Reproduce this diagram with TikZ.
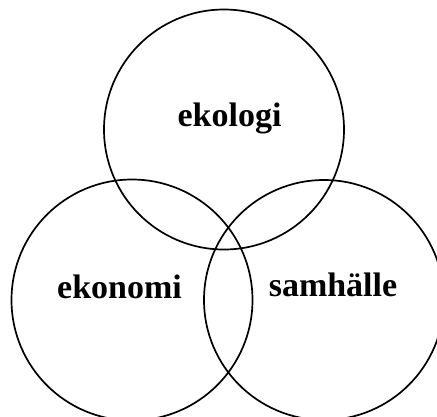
\documentclass[tikz,border=0pt]{standalone}
\usepackage{fontspec}
\setmainfont{Liberation Serif}
\begin{document}
\begin{tikzpicture}[x=1pt,y=-1pt,
  ring/.style={draw=black,line width=1.7pt},
  lbl/.style={font=\fontsize{34}{37}\selectfont\bfseries,inner sep=0pt}]
\useasboundingbox (0,0) rectangle (437,416);
\clip (0,0) rectangle (437,416);
\draw[ring] (224,129.5) circle (120);
\draw[ring] (132,300) circle (120.5);
\draw[ring] (324,300) circle (120);
\node[lbl] (eko) at (229.5,118) {ekologi};
\node[lbl] (ekon) at (119.5,287) {ekonomi};
\node[lbl] (sam) at (333,285) {samhälle};
\end{tikzpicture}
\end{document}
